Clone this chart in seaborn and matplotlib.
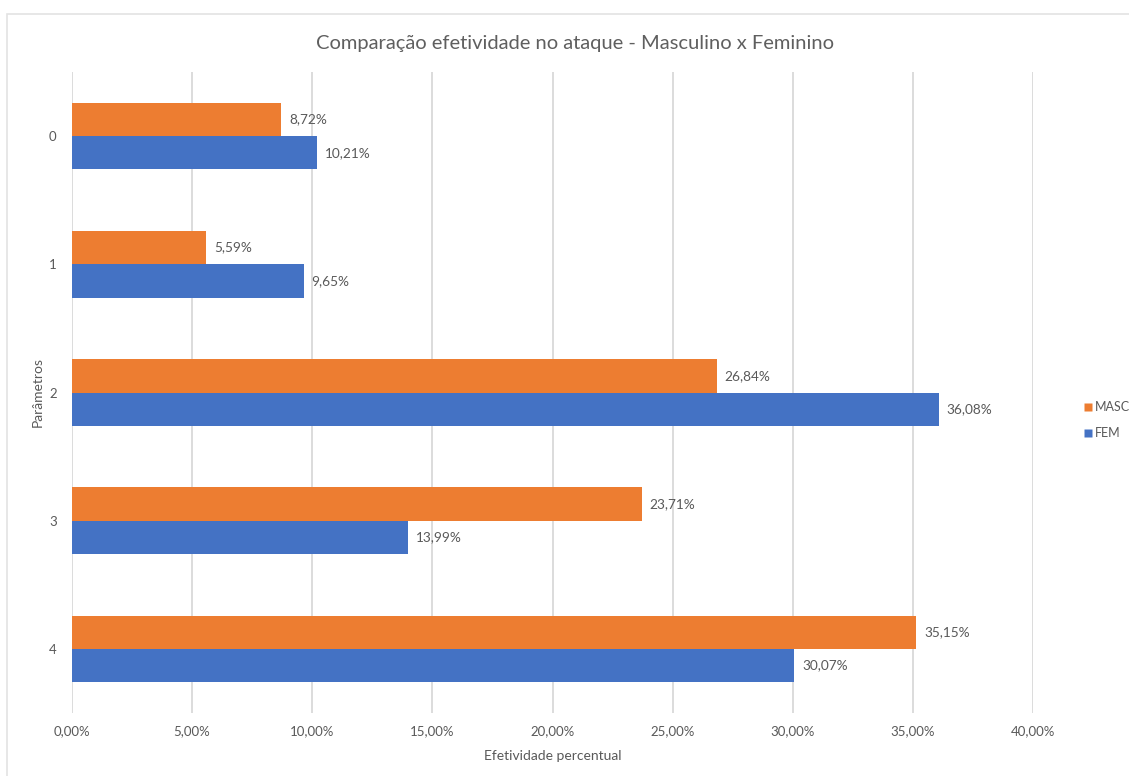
import matplotlib
matplotlib.use("Agg")
import matplotlib.pyplot as plt
import seaborn as sns
import pandas as pd
from matplotlib.patches import Rectangle
from matplotlib.lines import Line2D

# Data
categories = ["0", "1", "2", "3", "4"]
masc = [8.72, 5.59, 26.84, 23.71, 35.15]
fem = [10.21, 9.65, 36.08, 13.99, 30.07]
series = ["MASC", "FEM"]
xticks = [0, 5, 10, 15, 20, 25, 30, 35, 40]

title = "Comparação efetividade no ataque - Masculino x Feminino"
xlabel = "Efetividade percentual"
ylabel = "Parâmetros"

colors = {"MASC": "#ED7D31", "FEM": "#4472C4"}
text_gray = "#595959"
grid_gray = "#D9D9D9"

df = pd.DataFrame({
    "param": categories * 2,
    "valor": masc + fem,
    "serie": ["MASC"] * len(categories) + ["FEM"] * len(categories),
})

sns.set_theme(style="white")
plt.rcParams["font.family"] = ["Lato", "DejaVu Sans"]

fig = plt.figure(figsize=(11.29, 7.76), dpi=100)
ax = fig.add_axes([72 / 1129, 1 - 713 / 776, (1033 - 72) / 1129, (713 - 72) / 776])

# Chart frame
fig.add_artist(Rectangle((7 / 1129, -0.1), 1.2, 1 - 14 / 776 + 0.1,
                         transform=fig.transFigure, fill=False,
                         edgecolor="#E3E3E3", linewidth=1.2, zorder=0))

sns.barplot(data=df, x="valor", y="param", hue="serie", order=categories,
            hue_order=series, palette=colors, orient="h", width=0.52,
            gap=0, saturation=1, ax=ax, legend=False, errorbar=None,
            edgecolor="none", zorder=3)

ax.set_xlim(0, 40)
ax.set_ylim(4.5, -0.5)
ax.set_xticks(xticks)
ax.set_xticklabels([f"{v:.2f}".replace(".", ",") + "%" for v in xticks])
ax.grid(axis="x", color=grid_gray, linewidth=1.3, zorder=0)
ax.grid(axis="y", visible=False)
for s in ax.spines.values():
    s.set_visible(False)
ax.tick_params(axis="both", length=0, labelsize=9.5, colors=text_gray)
ax.tick_params(axis="x", pad=9)
ax.tick_params(axis="y", pad=11)

# Value labels
for cont, name in zip(ax.containers, series):
    ax.bar_label(cont, labels=[f"{v:.2f}".replace(".", ",") + "%" for v in cont.datavalues],
                 padding=5.5, fontsize=9.8, color=text_gray)

ax.set_xlabel(xlabel, fontsize=10, color=text_gray)
ax.set_ylabel(ylabel, fontsize=10, color=text_gray)
ax.xaxis.set_label_coords(0.5, (713 - 756) / 641)
ax.yaxis.set_label_coords((38 - 72) / 961, 0.5)
ax.xaxis.label.set_va("center")
ax.yaxis.label.set_va("center")

fig.text(575 / 1129, 1 - 43 / 776, title, ha="center", va="center",
         fontsize=14.5, color="#5F5F5F")

handles = [Line2D([], [], marker="s", linestyle="none", markersize=6,
                  markerfacecolor=colors[s], markeredgecolor="none") for s in series]
fig.legend(handles, series, loc="center left", bbox_to_anchor=(1070 / 1129, 1 - 420 / 776),
           frameon=False, fontsize=9, labelcolor=text_gray, handletextpad=0.1,
           handlelength=1.0, labelspacing=1.1)

fig.savefig("out.png", dpi=100)
